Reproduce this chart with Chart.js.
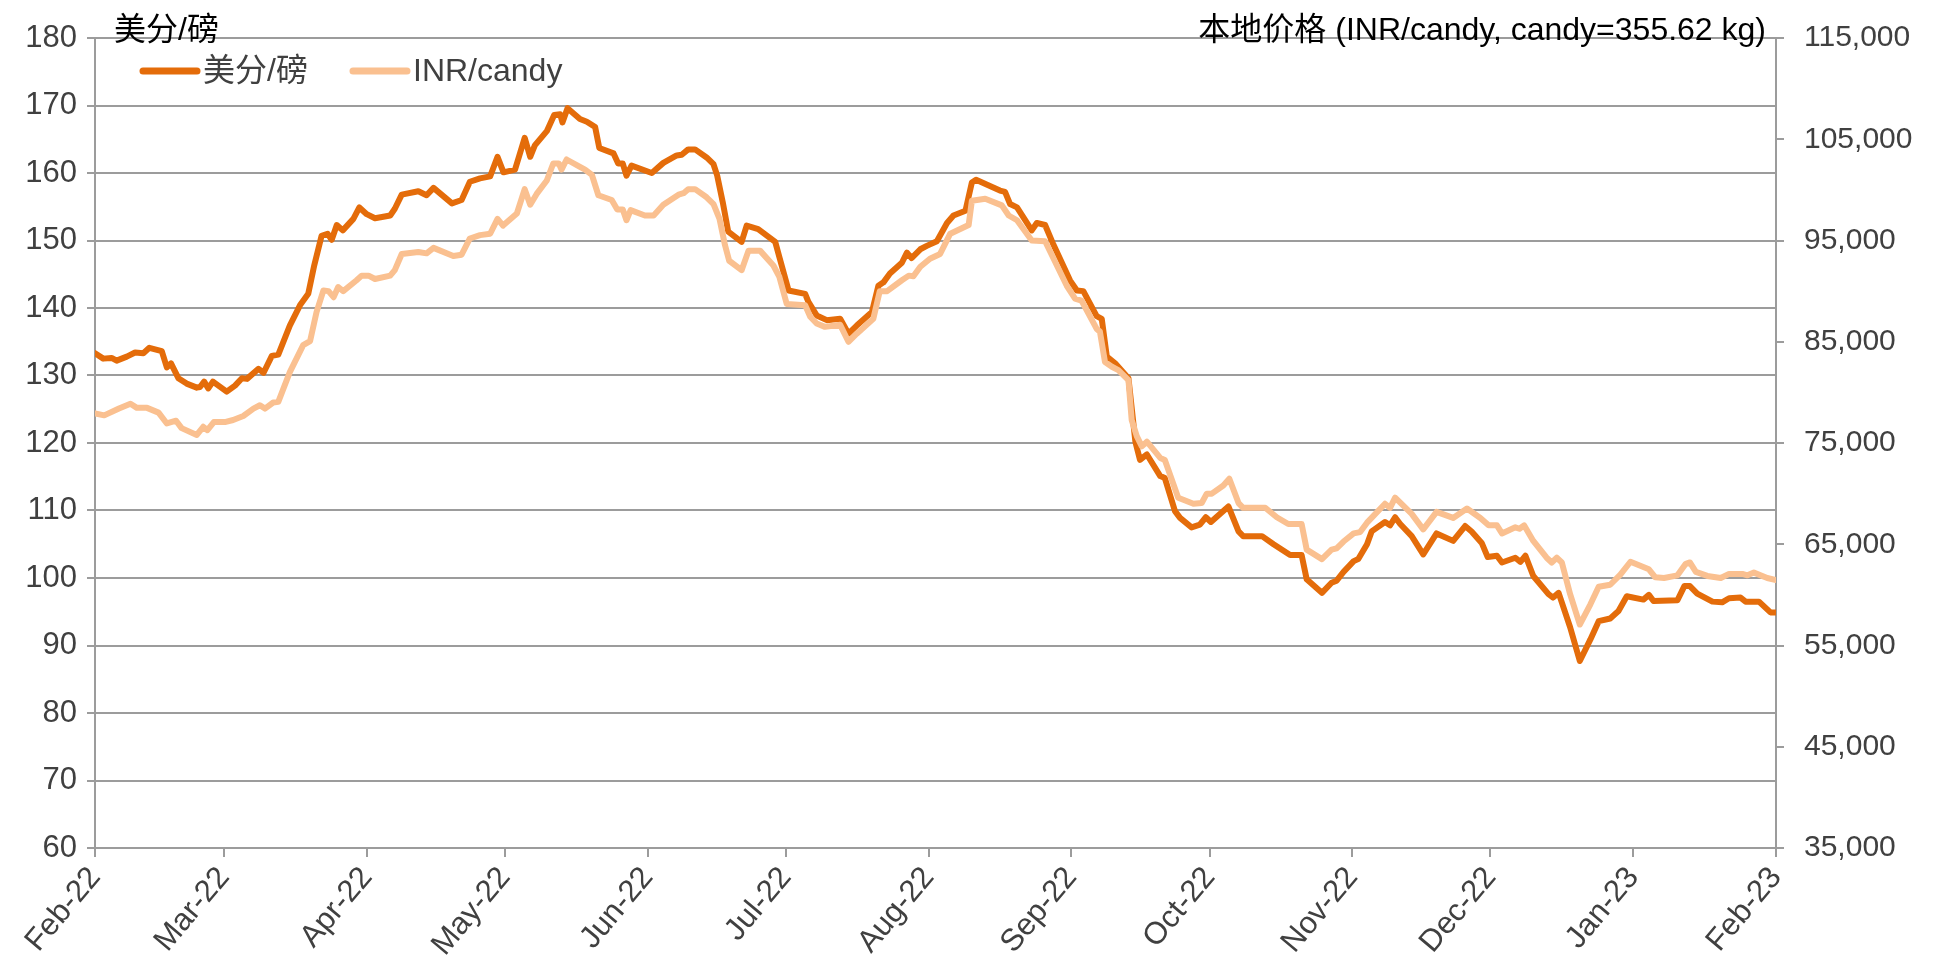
<!DOCTYPE html>
<html>
<head>
<meta charset="utf-8">
<script src="https://cdn.jsdelivr.net/npm/chart.js@4.4.1/dist/chart.umd.min.js"></script>
<style>
  html, body { margin: 0; padding: 0; background: #fff; }
  #wrap { width: 1936px; height: 968px; }
</style>
</head>
<body>
<div id="wrap"><canvas id="sugarChart"></canvas></div>
<script>
// Eixo x: dias contados a partir de 01/02/2022
const monthLabels = ['Feb-22', 'Mar-22', 'Apr-22', 'May-22', 'Jun-22', 'Jul-22', 'Aug-22',
                     'Sep-22', 'Oct-22', 'Nov-22', 'Dec-22', 'Jan-23', 'Feb-23'];
const monthDays = [0, 28, 59, 89, 120, 150, 181, 212, 242, 273, 303, 334, 365];

// 美分/磅 (eixo esquerdo)
const usDays = [
    0, 1.8, 3.6, 4.7, 6.9, 8.7, 10.5, 11.8, 14.5, 15.6,
    16.5, 18.1, 19.9, 22.1, 22.8, 23.7, 24.6, 25.6, 28.6, 30.4,
    31.9, 33, 35.5, 36.6, 38.4, 39.8, 42.3, 44.5, 46.3, 47.6,
    49.2, 50.5, 51.4, 52.5, 53.8, 56.1, 57.4, 59, 60.8, 64.1,
    65.1, 66.6, 70.2, 72, 73.5, 77.5, 79.6, 81.4, 83.6, 85.8,
    87.4, 88.7, 91.2, 93.3, 94.5, 95.5, 98.1, 99.7, 101, 101.5,
    102.6, 105.3, 106.8, 108.6, 109.5, 112.6, 113.6, 114.6, 115.4, 116.5,
    120.9, 123.4, 126.3, 127.4, 128.8, 130.3, 132.8, 134.3, 135.1, 136.3,
    137.5, 140.4, 141.5, 144, 147.7, 148.7, 150.6, 154.2, 154.9, 156.7,
    158.9, 161.8, 163.6, 165.4, 168.7, 170.1, 171.2, 172.6, 175.2, 176.3,
    177.3, 179.2, 180.6, 182.8, 185, 186.4, 189, 190.4, 191.3, 196.5,
    197.6, 198.7, 200.2, 203.4, 204.5, 206.3, 208.1, 211.7, 213.2, 214.6,
    217.5, 218.6, 219.7, 221.5, 224.4, 225.9, 226.9, 228.4, 231.3, 232.3,
    234.5, 235.6, 238.1, 239.9, 241.2, 242.3, 246.1, 248.3, 249.3, 253.4,
    255.9, 259.5, 262, 263.1, 266.4, 268.5, 269.6, 271.1, 273.3, 274.3,
    276.2, 277.2, 280.1, 281.2, 282.3, 283.4, 285.9, 288.4, 291.3, 294.9,
    297.5, 298.9, 301.1, 302.4, 304.4, 305.5, 308.4, 309.5, 310.6, 312.3,
    315.6, 316.6, 317.8, 320.3, 322.4, 324.7, 326.5, 329, 330.8, 332.6,
    336.2, 337.4, 338.4, 343.6, 345.1, 346.3, 347.9, 351.2, 353.3, 354.8,
    357.3, 358.4, 361.3, 363.8, 365
];
const usCents = [
    133.3, 132.5, 132.6, 132.2, 132.8, 133.4, 133.3, 134.1, 133.6, 131.2,
    131.8, 129.6, 128.8, 128.2, 128.3, 129.1, 128.1, 129.1, 127.6, 128.5,
    129.6, 129.5, 131.0, 130.4, 132.9, 133.1, 137.4, 140.4, 142.1, 146.3,
    150.7, 151.0, 150.1, 152.3, 151.5, 153.2, 154.9, 153.9, 153.3, 153.7,
    154.7, 156.8, 157.3, 156.7, 157.8, 155.5, 156.0, 158.7, 159.2, 159.5,
    162.4, 160.1, 160.5, 165.2, 162.4, 164.1, 166.2, 168.6, 168.7, 167.5,
    169.6, 168.0, 167.6, 166.8, 163.7, 162.9, 161.4, 161.4, 159.6, 161.1,
    160.0, 161.5, 162.6, 162.7, 163.5, 163.5, 162.3, 161.3, 159.6, 155.7,
    151.3, 149.8, 152.2, 151.7, 149.8, 147.3, 142.6, 142.1, 140.9, 138.9,
    138.2, 138.4, 136.2, 137.4, 139.4, 143.3, 143.8, 145.1, 146.7, 148.2,
    147.4, 148.7, 149.2, 149.9, 152.6, 153.7, 154.4, 158.6, 159.0, 157.4,
    157.2, 155.4, 154.9, 151.5, 152.6, 152.3, 149.4, 144.1, 142.6, 142.5,
    138.8, 138.4, 132.8, 131.8, 129.6, 120.2, 117.5, 118.3, 115.1, 114.8,
    109.9, 108.9, 107.5, 107.9, 109.0, 108.3, 110.6, 106.9, 106.2, 106.2,
    105.0, 103.4, 103.4, 99.8, 97.8, 99.3, 99.6, 100.9, 102.5, 102.8,
    105.0, 106.9, 108.3, 107.8, 109.0, 108.0, 106.2, 103.5, 106.6, 105.5,
    107.7, 106.9, 105.2, 103.1, 103.3, 102.3, 103.0, 102.4, 103.3, 100.3,
    97.6, 97.1, 97.8, 92.7, 87.7, 90.9, 93.6, 94.0, 95.1, 97.3,
    96.8, 97.5, 96.6, 96.7, 98.8, 98.8, 97.7, 96.5, 96.4, 97.0,
    97.1, 96.5, 96.5, 94.9, 94.9
];

// INR/candy (eixo direito)
const inrDays = [
    0, 2, 5.2, 7.7, 9.1, 11.3, 13.8, 15.6, 17.6, 18.8,
    22.1, 23.5, 24.4, 25.8, 28.2, 30, 32.2, 34.4, 35.8, 36.9,
    38.7, 39.8, 42.3, 45.2, 46.7, 48.1, 49.6, 50.7, 51.8, 52.8,
    53.9, 56.8, 57.9, 59.4, 60.8, 64.1, 65.1, 66.6, 70.2, 72,
    73.5, 77.8, 79.6, 81.4, 83.6, 85.8, 87.4, 88.6, 91.6, 93.3,
    94.5, 95.9, 98.1, 99.5, 100.7, 101.3, 102.4, 105.3, 106.4, 107.9,
    109.3, 112.2, 113.4, 114.6, 115.4, 116.3, 119.4, 121.3, 123.4, 126.7,
    127.8, 128.8, 130.3, 132.8, 134.3, 135.6, 136.8, 137.7, 140.4, 141.9,
    144.4, 147.3, 148.6, 150.2, 154.2, 155.3, 156.7, 158.5, 161.8, 163.6,
    165.4, 169, 170.4, 172, 175.2, 176.7, 177.7, 179.2, 181.3, 183.5,
    185.7, 189.7, 190.4, 193.3, 196.9, 198.4, 200.2, 203.4, 206.3, 211,
    212.8, 214.2, 217.5, 218.2, 219.3, 220.8, 222.2, 224.4, 225.1, 226.2,
    227.3, 228.4, 231.3, 232.3, 235.2, 238.5, 240.3, 241.4, 242.5, 245,
    246.3, 248.3, 249.3, 254.1, 256.6, 259.1, 262, 263.1, 266.4, 268.5,
    269.6, 271.1, 273.3, 274.7, 276.2, 277.6, 280.1, 281.2, 282.3, 285.9,
    288.4, 291.3, 294.9, 297.9, 300.8, 302.6, 304.4, 305.5, 308.4, 309.3,
    310.3, 312.3, 315.2, 316.3, 317.4, 318.5, 320.3, 322.4, 324.7, 326.5,
    329, 331.2, 333.4, 337.4, 338.8, 340.7, 343.6, 345.4, 346.3, 347.6,
    350.1, 353, 354.8, 357.7, 358.8, 360.2, 363.1, 365
];
const inrPrice = [
    77930, 77730, 78400, 78870, 78470, 78470, 78000, 76930, 77200, 76470,
    75800, 76600, 76270, 77070, 77070, 77270, 77670, 78400, 78730, 78400,
    79000, 79070, 82000, 84670, 85070, 87930, 90070, 90000, 89400, 90400,
    90000, 91070, 91530, 91530, 91200, 91530, 92070, 93670, 93870, 93730,
    94270, 93470, 93600, 95200, 95530, 95670, 97130, 96470, 97670, 100070,
    98530, 99600, 100930, 102600, 102600, 102000, 103000, 102270, 102000, 101470,
    99470, 99000, 98070, 98070, 97000, 98000, 97470, 97470, 98530, 99530,
    99670, 100070, 100070, 99270, 98600, 97130, 94530, 93000, 92070, 94000,
    94000, 92530, 91400, 88730, 88600, 87470, 86800, 86470, 86670, 85000,
    85800, 87270, 90000, 90000, 91070, 91530, 91470, 92400, 93200, 93670,
    95670, 96530, 98930, 99130, 98470, 97470, 97000, 95000, 94930, 90530,
    89270, 89070, 86270, 86000, 83000, 82530, 82200, 81200, 77270, 75670,
    74670, 75130, 73530, 73330, 69600, 69000, 69070, 70000, 70000, 70800,
    71470, 69070, 68600, 68600, 67670, 67000, 67000, 64470, 63530, 64470,
    64600, 65270, 66070, 66200, 67130, 67800, 69000, 68600, 69600, 68000,
    66470, 68200, 67600, 68530, 67600, 66870, 66870, 66070, 66670, 66530,
    66870, 65330, 63670, 63200, 63670, 63200, 60070, 57070, 59070, 60800,
    61000, 62000, 63270, 62530, 61730, 61670, 61930, 63070, 63200, 62270,
    61870, 61670, 62070, 62070, 61930, 62200, 61670, 61470
];

const fontFamily = "'Liberation Sans', 'Noto Sans CJK SC', Arial, sans-serif";
const gridGray = '#9c9c9c';
const tickGray = '#404040';

// Títulos dos eixos e legenda desenhados dentro da área do gráfico
const textPlugin = {
    id: 'cornerText',
    afterDraw(chart) {
        const { ctx, chartArea } = chart;
        ctx.save();
        ctx.font = '32px ' + fontFamily;
        ctx.fillStyle = '#000';
        ctx.textBaseline = 'alphabetic';
        ctx.textAlign = 'left';
        ctx.fillText('美分/磅', chartArea.left + 19, chartArea.top + 2);
        ctx.textAlign = 'right';
        ctx.fillText('本地价格 (INR/candy, candy=355.62 kg)', chartArea.right - 10, chartArea.top + 2);

        // legenda
        const y = chartArea.top + 33;
        const starts = [chartArea.left + 48, chartArea.left + 258];
        ctx.textAlign = 'left';
        ctx.textBaseline = 'middle';
        chart.data.datasets.forEach((ds, i) => {
            const x0 = starts[i];
            ctx.strokeStyle = ds.borderColor;
            ctx.lineWidth = 7;
            ctx.lineCap = 'round';
            ctx.beginPath();
            ctx.moveTo(x0, y);
            ctx.lineTo(x0 + 54, y);
            ctx.stroke();
            ctx.fillStyle = tickGray;
            ctx.fillText(ds.label, x0 + 60, y + 1);
        });
        ctx.restore();
    }
};

const ctx = document.getElementById('sugarChart').getContext('2d');

const config = {
    type: 'line',
    data: {
        datasets: [
            {
                label: '美分/磅',
                data: usDays.map((d, i) => ({ x: d, y: usCents[i] })),
                yAxisID: 'y',
                borderColor: '#e46c0a',
                borderWidth: 6,
                borderJoinStyle: 'round',
                borderCapStyle: 'round',
                pointRadius: 0,
                tension: 0,
                fill: false,
                order: 1
            },
            {
                label: 'INR/candy',
                data: inrDays.map((d, i) => ({ x: d, y: inrPrice[i] })),
                yAxisID: 'y1',
                borderColor: '#fac090',
                borderWidth: 6,
                borderJoinStyle: 'round',
                borderCapStyle: 'round',
                pointRadius: 0,
                tension: 0,
                fill: false,
                order: 0
            }
        ]
    },
    options: {
        responsive: true,
        maintainAspectRatio: false,
        animation: false,
        layout: { padding: { top: 35 } },
        plugins: {
            legend: { display: false },
            tooltip: { enabled: false }
        },
        scales: {
            x: {
                type: 'linear',
                min: 0,
                max: 365,
                afterBuildTicks: axis => {
                    axis.ticks = monthDays.map(v => ({ value: v }));
                },
                afterFit: scale => { scale.height = 120; },
                ticks: {
                    autoSkip: false,
                    maxRotation: 50,
                    minRotation: 50,
                    padding: 3,
                    color: tickGray,
                    font: { family: fontFamily, size: 31 },
                    callback: (value, index) => monthLabels[index]
                },
                grid: {
                    drawOnChartArea: false,
                    tickLength: 9,
                    tickColor: gridGray,
                    lineWidth: 2
                },
                border: { color: gridGray, width: 2 }
            },
            y: {
                position: 'left',
                min: 60,
                max: 180,
                afterFit: scale => { scale.width = 95; },
                ticks: {
                    stepSize: 10,
                    padding: 10,
                    color: tickGray,
                    font: { family: fontFamily, size: 31 }
                },
                grid: {
                    color: gridGray,
                    lineWidth: 2,
                    tickLength: 8
                },
                border: { color: gridGray, width: 2 }
            },
            y1: {
                position: 'right',
                min: 35000,
                max: 115000,
                afterFit: scale => { scale.width = 160; },
                ticks: {
                    stepSize: 10000,
                    padding: 20,
                    color: tickGray,
                    font: { family: fontFamily, size: 30 },
                    callback: v => v.toLocaleString('en-US')
                },
                grid: {
                    drawOnChartArea: false,
                    tickLength: 8,
                    tickColor: gridGray,
                    lineWidth: 2
                },
                border: { color: gridGray, width: 2 }
            }
        }
    },
    plugins: [textPlugin]
};

const sugarChart = new Chart(ctx, config);
</script>
</body>
</html>
